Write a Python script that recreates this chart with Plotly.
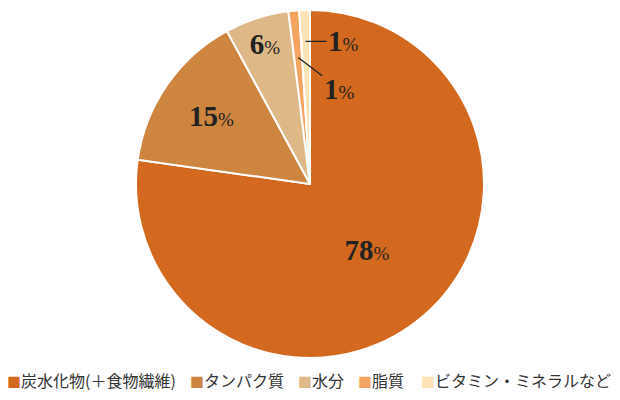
import math
import plotly.graph_objects as go

labels = ["炭水化物(＋食物繊維)", "タンパク質", "水分", "脂質", "ビタミン・ミネラルなど"]
values = [78, 15, 6, 1, 1]
colors = ["#D2691E", "#CD853F", "#DEB887", "#F4A460", "#FFE4B5"]

# page has an 8px body margin; figure is sized to fit the 620x400 window
OFF = 8
W, H = 620 - OFF, 400 - OFF
CX, CY, R = 310, 184, 174          # pie centre / radius in window pixels
mt = CY - R - OFF
mb = H - mt - 2 * R
ml = 0
mr = W - ml - 2 * (CX - OFF - ml)
pw, ph = W - ml - mr, H - mt - mb

def to_paper(px, py):
    return (px - OFF - ml) / pw, 1 - (py - OFF - mt) / ph

def fmt(v):
    return "<b>%d</b><span style='font-size:19px;font-weight:normal'>%%</span>" % v

texts = [fmt(v) if v >= 5 else "" for v in values]

fig = go.Figure(go.Pie(
    labels=labels, values=values, sort=False, direction="clockwise", rotation=0,
    marker=dict(colors=colors, line=dict(color="white", width=2)),
    text=texts, textinfo="text", textposition="inside",
    insidetextorientation="horizontal",
    textfont=dict(family="Liberation Serif", size=29, color="#222222"),
    hoverinfo="label+percent",
    showlegend=False,
))

# leader-line labels for small slices
total = sum(values)
cum = 0
anns = []
small_cfg = {3: (0.73, 41, 31), 4: (0.82, 38, 0)}
for i, v in enumerate(values):
    mid = (cum + v / 2) / total * 2 * math.pi
    cum += v
    if i in small_cfg:
        rf, ax, ay = small_cfg[i]
        r = R * rf
        x, y = to_paper(CX + r * math.sin(mid), CY - r * math.cos(mid))
        anns.append(dict(
            x=x, y=y, xref="paper", yref="paper",
            text=fmt(v), showarrow=True, arrowhead=0, arrowwidth=1.3,
            arrowcolor="#222222", ax=ax, ay=ay,
            font=dict(family="Liberation Serif", size=29, color="#222222"),
        ))

# legend row (square + label) along the bottom, window pixel x of each entry
legend_x = [5, 188, 296, 356, 419]
for lx, lab, col in zip(legend_x, labels, colors):
    x, y = to_paper(lx, 380)
    anns.append(dict(
        x=x, y=y, xref="paper", yref="paper",
        xanchor="left", yanchor="middle", showarrow=False,
        text="<span style='color:%s;font-size:14px'>■</span>%s" % (col, lab),
        font=dict(family="Noto Sans CJK JP", size=16, color="#333333"),
    ))

fig.update_layout(
    width=W, height=H,
    margin=dict(l=ml, r=mr, t=mt, b=mb, pad=0),
    paper_bgcolor="white", plot_bgcolor="white",
    annotations=anns,
    showlegend=False,
)
fig.write_html("out.html")
